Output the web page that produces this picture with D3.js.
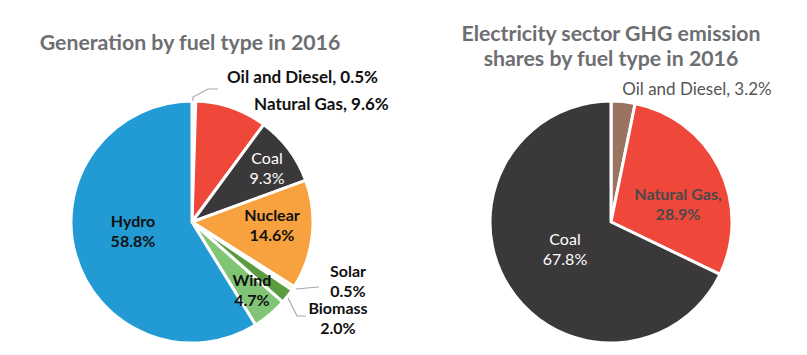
<!DOCTYPE html>
<html><head><meta charset="utf-8">
<script src="https://cdn.jsdelivr.net/npm/d3@7"></script>
<style>
html,body{margin:0;padding:0;background:#fff;}
svg{display:block;}
text{font-family:Lato,"Open Sans",sans-serif;}
</style></head>
<body>
<script>
// ---- data ----
const genCategories = ["Oil and Diesel","Natural Gas","Coal","Nuclear","Solar","Biomass","Wind","Hydro"];
const genValues = [0.5, 9.6, 9.3, 14.6, 0.5, 2.0, 4.7, 58.8];
const genColors = ["#c8c8c8","#ef473a","#3b3839","#f8a13f","#f2e27c","#5c9c40","#80c575","#229bd5"];

const ghgCategories = ["Oil and Diesel","Natural Gas","Coal"];
const ghgValues = [3.2, 28.9, 67.8];
const ghgColors = ["#9a7361","#ef473a","#3b3839"];

const titles = {
  left: ["Generation by fuel type in 2016"],
  right: ["Electricity sector GHG emission", "shares by fuel type in 2016"]
};

// ---- chart ----
const W = 807, H = 355, R = 121;
const svg = d3.select("body").append("svg").attr("width", W).attr("height", H);

function drawPie(cx, cy, cats, vals, cols) {
  const data = cats.map((c, i) => ({cat: c, value: vals[i], color: cols[i]}));
  const pie = d3.pie().sort(null).value(d => d.value);
  const arc = d3.arc().innerRadius(0).outerRadius(R);
  const g = svg.append("g").attr("transform", `translate(${cx},${cy})`);
  g.selectAll("path").data(pie(data)).join("path")
    .attr("d", arc)
    .attr("fill", d => d.data.color)
    .attr("stroke", "#fff")
    .attr("stroke-width", 3)
    .attr("stroke-linejoin", "round");
  return g;
}

drawPie(192, 222, genCategories, genValues, genColors);
drawPie(611, 222, ghgCategories, ghgValues, ghgColors);

// titles
svg.append("text").attr("x", 190).attr("y", 50).attr("text-anchor", "middle")
  .attr("font-size", 21.3).attr("font-weight", 700).attr("fill", "#6d6e71")
  .text(titles.left[0]);
titles.right.forEach((t, i) => {
  svg.append("text").attr("x", 611).attr("y", 40.5 + i * 25.7).attr("text-anchor", "middle")
    .attr("font-size", 21.3).attr("font-weight", 700).attr("fill", "#6d6e71").text(t);
});

// labels (one text element per line)
function label(x, y, lines, opts) {
  lines.forEach((l, i) => {
    svg.append("text").attr("x", x).attr("y", y + i * (opts.lh || 19.5))
      .attr("text-anchor", opts.anchor || "middle")
      .attr("font-size", opts.size || 16)
      .attr("font-weight", opts.weight || 700)
      .attr("fill", opts.fill || "#111")
      .text(l);
  });
}
const fmt = v => v.toFixed(1) + "%";

// left chart labels
label(227, 83, [`${genCategories[0]}, ${fmt(genValues[0])}`], {anchor: "start", size: 17});
label(254, 110, [`${genCategories[1]}, ${fmt(genValues[1])}`], {anchor: "start", size: 17});
label(267, 164, [genCategories[2], fmt(genValues[2])], {fill: "#fff", weight: 400});
label(272, 221, [genCategories[3], fmt(genValues[3])], {});
label(348, 277, [genCategories[4], fmt(genValues[4])], {});
label(338, 314, [genCategories[5], fmt(genValues[5])], {});
label(252, 286, [genCategories[6], fmt(genValues[6])], {});
label(133, 227, [genCategories[7], fmt(genValues[7])], {});

// leader lines (left)
const lineG = svg.append("g").attr("fill", "none").attr("stroke", "#a7a9ac").attr("stroke-width", 1.2);
lineG.append("polyline").attr("points", "193,101 193,97 208,89 218,89");
lineG.append("polyline").attr("points", "296,289 307,288 319,287");
lineG.append("polyline").attr("points", "288,298 297,316 306,316");

// right chart labels
label(697, 95, [`${ghgCategories[0]}, ${fmt(ghgValues[0])}`], {fill: "#555", weight: 400, size: 17});
label(678, 200, [`${ghgCategories[1]},`, fmt(ghgValues[1])], {fill: "#4a4a4a"});
label(565, 245, [ghgCategories[2], fmt(ghgValues[2])], {fill: "#fff", weight: 400});
</script>
</body></html>
